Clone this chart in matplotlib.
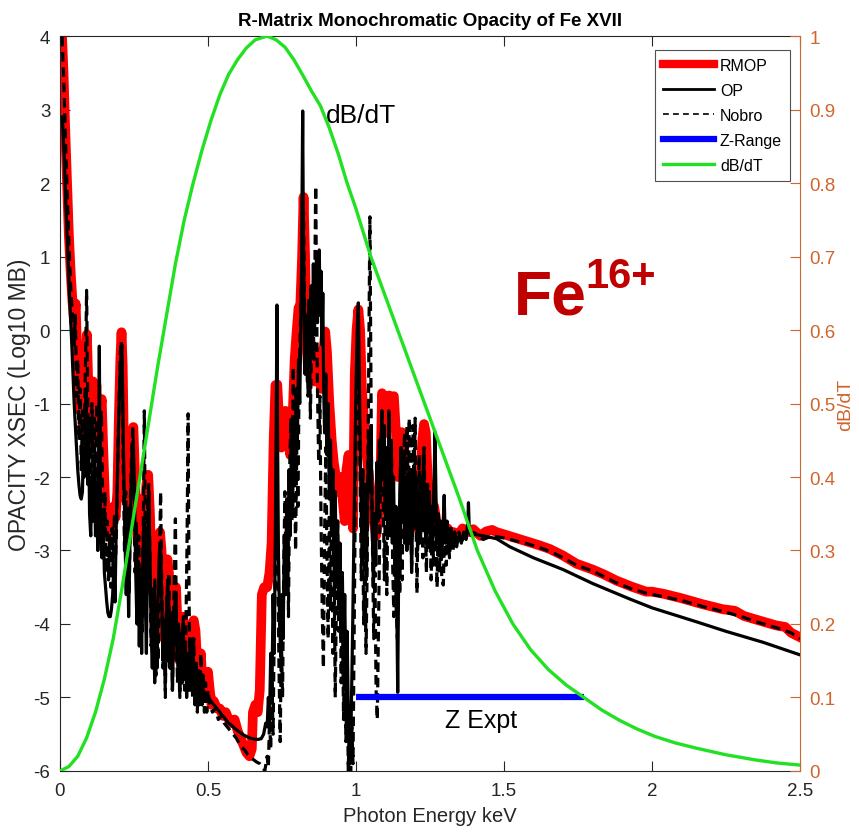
import matplotlib
matplotlib.use("Agg")
import matplotlib.pyplot as plt
from matplotlib.lines import Line2D

# ---------------- data ----------------
rmop_x = [0.005, 0.012, 0.018, 0.024, 0.030, 0.036, 0.042, 0.048, 0.053, 0.058, 0.063, 0.068, 0.073, 0.078, 0.083, 0.088, 0.091, 0.094, 0.098, 0.102,
          0.107, 0.112, 0.118, 0.123, 0.128, 0.134, 0.141, 0.146, 0.152, 0.158, 0.164, 0.170, 0.176, 0.182, 0.188, 0.194, 0.199, 0.204, 0.208, 0.212,
          0.216, 0.221, 0.226, 0.232, 0.238, 0.244, 0.248, 0.252, 0.258, 0.263, 0.268, 0.274, 0.280, 0.286, 0.292, 0.298, 0.304, 0.310, 0.316, 0.322,
          0.328, 0.334, 0.338, 0.343, 0.348, 0.353, 0.358, 0.363, 0.368, 0.374, 0.380, 0.386, 0.392, 0.398, 0.404, 0.410, 0.416, 0.422, 0.428, 0.434,
          0.440, 0.446, 0.452, 0.458, 0.464, 0.470, 0.476, 0.482, 0.488, 0.494, 0.500, 0.506, 0.512, 0.520, 0.530, 0.540, 0.550, 0.560, 0.570, 0.580,
          0.590, 0.600, 0.610, 0.620, 0.630, 0.640, 0.648, 0.652, 0.660, 0.668, 0.675, 0.682, 0.690, 0.700, 0.708, 0.715, 0.722, 0.728, 0.734, 0.740,
          0.748, 0.755, 0.762, 0.770, 0.778, 0.786, 0.793, 0.800, 0.806, 0.812, 0.818, 0.823, 0.828, 0.833, 0.838, 0.845, 0.852, 0.860, 0.868, 0.875,
          0.882, 0.890, 0.896, 0.902, 0.910, 0.918, 0.925, 0.932, 0.940, 0.948, 0.955, 0.962, 0.968, 0.975, 0.982, 0.990, 0.996, 1.002, 1.008, 1.014,
          1.020, 1.028, 1.036, 1.044, 1.052, 1.060, 1.068, 1.075, 1.082, 1.088, 1.094, 1.100, 1.106, 1.112, 1.120, 1.128, 1.135, 1.142, 1.150, 1.155,
          1.162, 1.170, 1.178, 1.186, 1.194, 1.200, 1.208, 1.216, 1.224, 1.230, 1.236, 1.242, 1.248, 1.256, 1.264, 1.272, 1.280, 1.290, 1.300, 1.310,
          1.320, 1.330, 1.345, 1.360, 1.380, 1.396, 1.420, 1.440, 1.460, 1.475, 1.500, 1.540, 1.580, 1.620, 1.655, 1.700, 1.745, 1.800, 1.840, 1.880,
          1.930, 1.980, 2.000, 2.040, 2.100, 2.170, 2.240, 2.280, 2.310, 2.360, 2.420, 2.450, 2.470, 2.500]
rmop_y = [4.2, 3.5, 2.7, 2.0, 1.3, 0.8, 0.4, 0.1, 0.36, -0.3, -0.8, -1.1, -0.9, -1.4, -1.0, -0.3, -0.06, -0.5, -1.2, -1.55,
          -0.8, -0.7, -1.3, -0.75, -1.5, -1.2, -0.94, -1.6, -2.3, -2.7, -2.5, -2.75, -2.6, -2.4, -2.55, -2.2, -1.2, -0.4, -0.03, -0.5,
          -1.6, -2.3, -2.0, -2.6, -1.9, -1.4, -1.32, -1.8, -2.6, -2.9, -2.3, -3.0, -3.4, -2.6, -2.1, -1.97, -2.5, -3.4, -3.6, -3.2,
          -3.9, -3.0, -2.75, -3.0, -3.6, -4.2, -3.4, -3.12, -3.3, -4.0, -4.4, -3.8, -3.5, -4.1, -4.5, -4.0, -3.9, -4.3, -4.6, -4.2,
          -4.5, -4.0, -3.95, -4.1, -4.6, -4.8, -4.4, -4.9, -5.0, -4.8, -4.65, -4.9, -5.1, -5.05, -5.15, -5.15, -5.25, -5.2, -5.3, -5.35,
          -5.3, -5.45, -5.55, -5.65, -5.75, -5.8, -5.7, -5.2, -5.1, -5.2, -4.9, -3.6, -3.5, -3.5, -3.3, -2.9, -1.5, -0.75, -0.74, -1.2,
          -1.6, -1.3, -1.1, -1.4, -1.7, -1.2, -0.4, 0.0, 0.3, 0.34, 1.0, 1.81, 1.0, -0.2, -0.5, -0.2, -0.4, -0.7, -0.3, -0.5,
          -0.8, -0.3, -0.02, -0.3, -1.0, -1.5, -1.8, -2.0, -2.2, -2.0, -2.3, -2.6, -1.9, -1.7, -2.2, -2.7, -0.6, 0.0, 0.28, 0.0,
          -0.8, -1.3, -1.7, -2.0, -2.3, -2.6, -2.8, -2.6, -2.2, -0.86, -1.0, -1.4, -1.1, -0.89, -0.95, -0.9, -1.4, -2.0, -1.6, -1.39,
          -1.7, -2.2, -2.5, -2.3, -2.0, -2.5, -2.7, -2.2, -1.5, -1.28, -1.4, -2.0, -2.3, -2.6, -2.4, -2.6, -2.8, -2.7, -2.85, -2.7,
          -2.8, -2.75, -2.8, -2.7, -2.75, -2.71, -2.8, -2.74, -2.72, -2.75, -2.78, -2.83, -2.88, -2.93, -2.98, -3.07, -3.18, -3.26, -3.33, -3.41,
          -3.49, -3.56, -3.56, -3.59, -3.65, -3.73, -3.80, -3.82, -3.89, -3.95, -4.02, -4.04, -4.12, -4.18]

op_x = [0.008, 0.014, 0.020, 0.026, 0.032, 0.036, 0.040, 0.044, 0.048, 0.052, 0.056, 0.060, 0.064, 0.068, 0.072, 0.076, 0.079, 0.082, 0.085, 0.088,
        0.091, 0.094, 0.097, 0.100, 0.104, 0.108, 0.112, 0.116, 0.120, 0.124, 0.128, 0.131, 0.133, 0.135, 0.138, 0.142, 0.146, 0.150, 0.154, 0.158,
        0.162, 0.166, 0.170, 0.174, 0.178, 0.182, 0.186, 0.190, 0.194, 0.198, 0.202, 0.206, 0.209, 0.212, 0.216, 0.220, 0.224, 0.228, 0.232, 0.236,
        0.240, 0.244, 0.248, 0.252, 0.256, 0.260, 0.264, 0.268, 0.272, 0.276, 0.280, 0.284, 0.288, 0.292, 0.296, 0.300, 0.304, 0.308, 0.312, 0.316,
        0.320, 0.324, 0.328, 0.332, 0.336, 0.340, 0.344, 0.348, 0.352, 0.356, 0.360, 0.364, 0.368, 0.372, 0.376, 0.380, 0.384, 0.388, 0.392, 0.396,
        0.400, 0.404, 0.408, 0.412, 0.416, 0.420, 0.424, 0.428, 0.432, 0.436, 0.440, 0.444, 0.448, 0.452, 0.456, 0.460, 0.464, 0.468, 0.472, 0.476,
        0.480, 0.485, 0.490, 0.495, 0.500, 0.510, 0.520, 0.530, 0.540, 0.550, 0.560, 0.570, 0.580, 0.590, 0.600, 0.610, 0.620, 0.630, 0.640, 0.650,
        0.660, 0.670, 0.680, 0.688, 0.695, 0.700, 0.704, 0.708, 0.712, 0.716, 0.720, 0.724, 0.728, 0.731, 0.733, 0.735, 0.738, 0.742, 0.746, 0.750,
        0.754, 0.758, 0.762, 0.766, 0.770, 0.774, 0.778, 0.782, 0.786, 0.790, 0.794, 0.798, 0.802, 0.806, 0.810, 0.813, 0.816, 0.818, 0.820, 0.822,
        0.825, 0.828, 0.832, 0.836, 0.840, 0.844, 0.848, 0.852, 0.856, 0.860, 0.864, 0.867, 0.870, 0.873, 0.876, 0.879, 0.882, 0.885, 0.888, 0.891,
        0.894, 0.898, 0.902, 0.906, 0.910, 0.914, 0.918, 0.922, 0.926, 0.930, 0.934, 0.938, 0.942, 0.946, 0.950, 0.954, 0.958, 0.962, 0.966, 0.970,
        0.974, 0.978, 0.981, 0.985, 0.989, 0.993, 0.997, 1.001, 1.005, 1.008, 1.011, 1.015, 1.019, 1.023, 1.027, 1.031, 1.035, 1.039, 1.043, 1.047,
        1.051, 1.055, 1.059, 1.063, 1.067, 1.071, 1.075, 1.079, 1.083, 1.087, 1.091, 1.095, 1.099, 1.103, 1.107, 1.111, 1.115, 1.119, 1.123, 1.127,
        1.131, 1.135, 1.138, 1.141, 1.144, 1.148, 1.152, 1.156, 1.160, 1.164, 1.168, 1.172, 1.176, 1.180, 1.184, 1.188, 1.192, 1.196, 1.200, 1.204,
        1.208, 1.212, 1.216, 1.220, 1.224, 1.228, 1.232, 1.236, 1.240, 1.244, 1.248, 1.252, 1.256, 1.260, 1.264, 1.267, 1.270, 1.274, 1.278, 1.282,
        1.286, 1.290, 1.294, 1.298, 1.302, 1.308, 1.314, 1.320, 1.326, 1.332, 1.340, 1.348, 1.356, 1.364, 1.372, 1.378, 1.380, 1.383, 1.390, 1.400,
        1.430, 1.475, 1.520, 1.600, 1.700, 1.800, 1.925, 2.000, 2.150, 2.250, 2.376, 2.500]
op_y = [2.9, 2.4, 1.7, 1.1, 0.5, 0.15, -0.2, -0.6, -1.0, -1.3, -1.6, -1.9, -2.1, -2.25, -2.3, -2.2, -1.6, -2.0, -1.2, -0.8,
        -1.5, -2.1, -1.4, -2.5, -2.8, -2.0, -2.6, -1.7, -2.8, -2.2, -3.0, -1.5, -0.22, -1.6, -2.7, -3.1, -2.5, -3.3, -3.5, -3.7,
        -3.85, -3.9, -3.9, -3.8, -3.6, -3.2, -3.7, -2.7, -2.0, -1.3, -0.7, -0.35, -0.2, -0.9, -2.0, -2.9, -3.6, -2.7, -3.9, -3.0,
        -2.2, -1.6, -1.5, -2.3, -3.3, -4.0, -3.2, -4.3, -3.4, -4.4, -3.1, -2.6, -3.6, -4.4, -3.0, -2.2, -3.1, -4.1, -4.6, -3.8,
        -4.8, -4.0, -4.6, -3.5, -3.0, -2.9, -3.7, -4.5, -4.0, -4.8, -3.8, -3.4, -3.8, -4.6, -3.9, -4.9, -4.1, -3.7, -3.6, -4.5,
        -4.0, -4.9, -4.2, -4.8, -4.0, -4.7, -4.3, -5.0, -4.4, -4.9, -4.3, -4.8, -4.2, -4.7, -5.1, -4.6, -5.0, -4.7, -5.1, -4.8,
        -5.0, -4.9, -5.0, -4.95, -5.0, -5.05, -5.1, -5.15, -5.2, -5.25, -5.3, -5.35, -5.38, -5.42, -5.45, -5.48, -5.51, -5.53, -5.55, -5.56,
        -5.57, -5.57, -5.56, -5.5, -5.35, -5.4, -5.0, -5.3, -4.4, -5.0, -3.6, -4.4, -2.6, -1.0, 0.34, -1.4, -3.0, -4.0, -4.45, -3.6,
        -4.2, -2.8, -3.6, -2.3, -3.2, -1.9, -2.8, -1.6, -2.4, -1.2, -2.0, -0.8, -1.5, -0.4, -1.0, -0.2, 0.8, 1.8, 2.98, 1.5,
        0.3, -0.6, 0.2, -0.7, 0.4, -0.5, 0.6, -0.3, 0.9, 0.0, 0.7, 1.05, 0.1, 0.9, 1.09, 0.2, 0.8, -0.2, 0.5, -0.8,
        -1.4, -0.6, -1.7, -1.0, -2.3, -1.5, -2.8, -1.9, -3.1, -2.2, -3.5, -2.6, -3.8, -2.9, -4.2, -3.3, -4.5, -3.6, -4.8, -4.1,
        -5.2, -5.6, -5.9, -5.0, -4.0, -2.8, -1.6, -0.6, 0.1, 0.37, -0.6, -1.8, -2.8, -1.9, -3.1, -2.1, -3.4, -2.4, -1.4, -2.2,
        -1.3, -2.7, -3.5, -2.5, -3.2, -1.8, -2.6, -1.5, -2.2, -1.1, -2.0, -1.3, -2.5, -1.6, -2.8, -1.1, -2.3, -1.5, -2.9, -2.0,
        -3.2, -2.4, -3.8, -4.93, -3.4, -2.2, -1.6, -2.6, -1.7, -2.9, -2.0, -3.0, -2.2, -2.9, -2.0, -3.3, -2.4, -1.9, -2.7, -2.0,
        -3.0, -2.3, -2.9, -2.1, -2.6, -1.7, -2.4, -2.9, -2.1, -2.7, -2.2, -2.9, -2.4, -2.8, -2.0, -1.39, -2.2, -2.9, -2.5, -3.0,
        -2.6, -3.1, -2.7, -2.25, -2.9, -2.6, -3.0, -2.7, -2.95, -2.75, -2.9, -2.8, -2.9, -2.75, -2.85, -2.6, -2.35, -2.75, -2.8, -2.78,
        -2.8, -2.84, -2.95, -3.1, -3.26, -3.45, -3.66, -3.78, -3.97, -4.1, -4.25, -4.42]

nobro_x = [0.005, 0.012, 0.018, 0.024, 0.030, 0.036, 0.042, 0.048, 0.052, 0.056, 0.060, 0.064, 0.068, 0.072, 0.076, 0.080, 0.084, 0.087, 0.090, 0.093,
           0.096, 0.100, 0.104, 0.108, 0.112, 0.116, 0.120, 0.124, 0.128, 0.132, 0.136, 0.140, 0.144, 0.148, 0.152, 0.156, 0.160, 0.164, 0.168, 0.172,
           0.176, 0.180, 0.184, 0.188, 0.192, 0.196, 0.200, 0.204, 0.207, 0.210, 0.214, 0.218, 0.222, 0.226, 0.230, 0.234, 0.238, 0.242, 0.246, 0.250,
           0.254, 0.258, 0.262, 0.266, 0.270, 0.274, 0.278, 0.282, 0.285, 0.288, 0.292, 0.296, 0.300, 0.304, 0.308, 0.312, 0.316, 0.320, 0.324, 0.328,
           0.332, 0.336, 0.340, 0.344, 0.348, 0.352, 0.356, 0.360, 0.364, 0.368, 0.372, 0.376, 0.380, 0.384, 0.388, 0.390, 0.393, 0.397, 0.401, 0.405,
           0.409, 0.413, 0.417, 0.421, 0.425, 0.429, 0.433, 0.436, 0.440, 0.444, 0.448, 0.452, 0.456, 0.460, 0.464, 0.468, 0.472, 0.476, 0.480, 0.484,
           0.488, 0.492, 0.496, 0.500, 0.506, 0.515, 0.525, 0.535, 0.545, 0.555, 0.565, 0.575, 0.585, 0.595, 0.605, 0.615, 0.625, 0.635, 0.645, 0.655,
           0.665, 0.675, 0.685, 0.692, 0.700, 0.704, 0.708, 0.712, 0.716, 0.720, 0.724, 0.728, 0.732, 0.736, 0.740, 0.744, 0.748, 0.752, 0.756, 0.760,
           0.764, 0.768, 0.772, 0.776, 0.780, 0.784, 0.788, 0.792, 0.796, 0.800, 0.804, 0.808, 0.812, 0.816, 0.820, 0.823, 0.826, 0.830, 0.834, 0.838,
           0.842, 0.846, 0.850, 0.854, 0.858, 0.861, 0.864, 0.867, 0.870, 0.874, 0.878, 0.882, 0.886, 0.890, 0.894, 0.898, 0.902, 0.906, 0.910, 0.914,
           0.918, 0.922, 0.926, 0.930, 0.934, 0.938, 0.942, 0.946, 0.950, 0.954, 0.958, 0.962, 0.966, 0.970, 0.974, 0.978, 0.982, 0.986, 0.990, 0.994,
           0.998, 1.002, 1.006, 1.010, 1.014, 1.018, 1.022, 1.026, 1.030, 1.034, 1.038, 1.042, 1.045, 1.047, 1.049, 1.052, 1.056, 1.060, 1.064, 1.068,
           1.072, 1.076, 1.080, 1.084, 1.088, 1.092, 1.096, 1.100, 1.104, 1.108, 1.112, 1.116, 1.120, 1.124, 1.128, 1.132, 1.136, 1.140, 1.144, 1.148,
           1.152, 1.156, 1.160, 1.164, 1.168, 1.172, 1.176, 1.180, 1.184, 1.188, 1.192, 1.196, 1.200, 1.203, 1.206, 1.210, 1.214, 1.218, 1.222, 1.226,
           1.230, 1.234, 1.238, 1.242, 1.246, 1.250, 1.254, 1.258, 1.262, 1.266, 1.270, 1.274, 1.278, 1.282, 1.286, 1.290, 1.295, 1.300, 1.305, 1.310,
           1.316, 1.322, 1.328, 1.334, 1.340, 1.348, 1.356, 1.365, 1.375, 1.385, 1.400, 1.430, 1.460, 1.500, 1.540, 1.580, 1.620, 1.660, 1.700, 1.745,
           1.800, 1.840, 1.880, 1.930, 1.980, 2.040, 2.100, 2.170, 2.240, 2.310, 2.360, 2.420, 2.470, 2.500]
nobro_y = [4.2, 3.5, 2.7, 1.9, 1.2, 0.6, 0.2, -0.2, 0.2, -0.9, -0.4, -1.5, -0.8, -1.9, -1.1, -1.8, -0.9, -0.3, 0.54, -0.6,
           -1.8, -1.2, -2.3, -1.0, -2.0, -1.2, -2.2, -1.0, -2.1, -2.6, -1.3, -1.1, -2.2, -2.8, -2.2, -3.3, -2.6, -3.4, -2.8, -3.5,
           -2.7, -3.3, -2.5, -3.1, -2.6, -1.6, -0.9, -0.3, -0.15, -0.5, -1.9, -3.0, -2.2, -3.4, -2.4, -3.6, -2.3, -1.7, -1.3, -2.2,
           -3.3, -2.6, -3.8, -2.8, -4.0, -3.2, -4.1, -2.5, -1.1, -2.6, -3.8, -2.4, -2.1, -3.2, -4.3, -3.5, -4.6, -3.4, -4.7, -3.7,
           -4.5, -3.2, -2.2, -3.6, -4.6, -3.9, -5.0, -3.6, -4.5, -3.3, -4.6, -3.8, -4.9, -3.9, -3.0, -2.57, -3.9, -4.8, -4.0, -5.0,
           -4.1, -4.8, -3.9, -4.9, -4.2, -3.0, -1.14, -3.6, -4.9, -4.3, -5.0, -4.2, -5.1, -4.5, -5.2, -4.6, -5.0, -4.4, -5.1, -4.7,
           -5.2, -4.8, -5.2, -4.9, -5.1, -5.2, -5.15, -5.3, -5.25, -5.35, -5.4, -5.45, -5.5, -5.55, -5.62, -5.68, -5.72, -5.78, -5.82, -5.85,
           -5.88, -5.9, -5.95, -6.0, -5.8, -5.95, -5.3, -5.7, -4.8, -5.5, -4.0, -3.0, -1.6, -3.2, -4.6, -5.6, -4.2, -5.0, -3.2, -2.2,
           -3.6, -2.4, -3.9, -1.9, -1.2, -2.6, -0.5, -1.8, -3.0, -1.6, -2.4, -0.6, 0.0, 0.6, 1.3, 1.6, 0.4, -0.6, 0.2, -0.9,
           0.3, -1.2, -0.2, 0.6, -0.4, 0.8, 1.96, 0.4, -0.8, -1.8, -0.9, -2.6, -3.8, -4.6, -2.8, -1.6, -3.0, -4.2, -2.5, -3.8,
           -2.2, -4.4, -3.1, -5.0, -3.6, -2.6, -4.1, -3.0, -4.8, -3.6, -5.3, -4.2, -5.6, -4.6, -6.0, -5.2, -6.0, -5.4, -5.9, -4.0,
           -2.2, -1.0, 0.2, -0.8, -2.0, -3.4, -2.4, -4.0, -3.0, -4.4, -3.2, -1.0, 0.5, 1.54, 0.3, -1.6, -3.0, -4.2, -3.3, -4.9,
           -5.3, -4.1, -2.8, -1.6, -1.1, -2.2, -3.4, -2.0, -3.6, -2.4, -1.2, -2.8, -1.6, -3.2, -3.9, -2.6, -3.8, -4.2, -2.9, -3.6,
           -2.2, -3.4, -2.0, -1.4, -2.6, -1.3, -2.9, -1.2, -2.5, -3.2, -1.3, -2.1, -1.2, -2.6, -3.58, -2.4, -1.7, -2.9, -2.0, -3.1,
           -1.6, -2.6, -3.3, -2.1, -3.0, -2.4, -3.4, -2.5, -3.2, -1.9, -2.8, -3.5, -2.6, -3.3, -2.7, -3.4, -3.47, -2.6, -3.2, -2.7,
           -3.1, -2.7, -3.0, -2.75, -2.95, -2.75, -2.9, -2.8, -2.85, -2.75, -2.76, -2.85, -2.8, -2.83, -2.87, -2.91, -2.96, -3.02, -3.1, -3.2,
           -3.28, -3.36, -3.44, -3.52, -3.58, -3.63, -3.68, -3.76, -3.83, -3.91, -3.98, -4.05, -4.12, -4.2]

zrange_x = [1.0, 1.77]
zrange_y = [-5.0, -5.0]

dbdt_x = [0.0, 0.03, 0.06, 0.09, 0.12, 0.15, 0.18, 0.21, 0.24, 0.27, 0.30, 0.33, 0.36, 0.39, 0.42, 0.45, 0.48, 0.51, 0.54, 0.57,
          0.60, 0.63, 0.66, 0.70, 0.73, 0.76, 0.79, 0.82, 0.85, 0.88, 0.91, 0.94, 0.97, 1.00, 1.05, 1.10, 1.15, 1.20, 1.25, 1.30,
          1.35, 1.41, 1.47, 1.53, 1.59, 1.65, 1.71, 1.77, 1.83, 1.89, 1.95, 2.01, 2.08, 2.15, 2.25, 2.35, 2.42, 2.50]
dbdt_y = [0.0, 0.006, 0.02, 0.045, 0.08, 0.125, 0.18, 0.25, 0.325, 0.40, 0.475, 0.55, 0.62, 0.69, 0.75, 0.80, 0.845, 0.885, 0.92, 0.948,
          0.968, 0.984, 0.995, 1.0, 0.995, 0.985, 0.968, 0.947, 0.925, 0.905, 0.875, 0.84, 0.80, 0.765, 0.70, 0.645, 0.59, 0.535, 0.48, 0.425,
          0.37, 0.30, 0.245, 0.20, 0.165, 0.138, 0.117, 0.10, 0.083, 0.069, 0.057, 0.047, 0.038, 0.031, 0.022, 0.015, 0.011, 0.008]

xticks = [0, 0.5, 1, 1.5, 2, 2.5]
xtick_labels = ["0", "0.5", "1", "1.5", "2", "2.5"]
yticks_left = [-6, -5, -4, -3, -2, -1, 0, 1, 2, 3, 4]
yticks_right = [0, 0.1, 0.2, 0.3, 0.4, 0.5, 0.6, 0.7, 0.8, 0.9, 1.0]
yticks_right_labels = ["0", "0.1", "0.2", "0.3", "0.4", "0.5", "0.6", "0.7", "0.8", "0.9", "1"]

# ---------------- style ----------------
plt.rcParams["font.family"] = ["Liberation Sans", "DejaVu Sans"]
plt.rcParams["axes.unicode_minus"] = False
ORANGE = "#D0652E"
DARK = "#262626"
RED = "#FF0000"
GREEN = "#22E022"

fig = plt.figure(figsize=(8.59, 8.37), dpi=100)
ax = fig.add_axes([0.0698, 0.0777, 0.8615, 0.878])

ax.plot(rmop_x, rmop_y, color=RED, lw=7.0, solid_joinstyle="round", zorder=2)
ax.plot(op_x, op_y, color="black", lw=2.3, zorder=3)
ax.plot(nobro_x, nobro_y, color="black", lw=2.3, ls=(0, (3.0, 1.8)), zorder=4)
ax.plot(zrange_x, zrange_y, color="#0000FF", lw=4.5, solid_capstyle="butt", zorder=5)

ax.set_xlim(0, 2.5)
ax.set_ylim(-6, 4)
ax.set_xticks(xticks)
ax.set_xticklabels(xtick_labels)
ax.set_yticks(yticks_left)
ax.tick_params(axis="both", direction="in", length=7, width=0.8, colors=DARK, labelsize=13.5)
ax.tick_params(axis="x", top=True, pad=8)
ax.tick_params(axis="y", pad=7)
for s in ["left", "bottom", "top"]:
    ax.spines[s].set_color(DARK)
    ax.spines[s].set_linewidth(0.8)
ax.spines["right"].set_visible(False)

ax.set_xlabel("Photon Energy keV", fontsize=14.5, color=DARK, labelpad=5)
ax.set_ylabel("OPACITY XSEC (Log10 MB)", fontsize=16.5, color=DARK, labelpad=2)
ax.set_title("R-Matrix Monochromatic Opacity of Fe XVII", fontsize=13.5, fontweight="bold",
             color="black", pad=8)

ax.text(0.90, 2.83, "dB/dT", fontsize=19, color="black", ha="left", va="baseline")
ax.text(1.30, -5.40, "Z Expt", fontsize=18, color="black", ha="left", va="baseline")
ax.text(1.535, 0.22, "Fe", fontsize=45, fontweight="bold", color="#C00000",
        ha="left", va="baseline")
ax.text(1.775, 0.58, "16+", fontsize=30, fontweight="bold", color="#C00000",
        ha="left", va="baseline")

ax2 = ax.twinx()
ax2.plot(dbdt_x, dbdt_y, color=GREEN, lw=2.4, zorder=6)
ax2.set_ylim(0, 1)
ax2.set_xlim(0, 2.5)
ax2.set_yticks(yticks_right)
ax2.set_yticklabels(yticks_right_labels)
ax2.tick_params(axis="y", direction="in", length=7, width=0.8, colors=ORANGE, labelsize=13.5, pad=7)
for s in ["left", "bottom", "top"]:
    ax2.spines[s].set_visible(False)
ax2.spines["right"].set_color(ORANGE)
ax2.spines["right"].set_linewidth(0.8)
ax2.set_ylabel("dB/dT", fontsize=14, color=ORANGE, labelpad=1)

handles = [
    Line2D([], [], color=RED, lw=6.0),
    Line2D([], [], color="black", lw=2.0),
    Line2D([], [], color="black", lw=1.2, ls=(0, (3.5, 2.5))),
    Line2D([], [], color="#0000FF", lw=4.5),
    Line2D([], [], color=GREEN, lw=2.4),
]
labels = ["RMOP", "OP", "Nobro", "Z-Range", "dB/dT"]
leg = ax2.legend(handles, labels, loc="upper right", bbox_to_anchor=(0.9865, 0.981), fontsize=11.5,
                 frameon=True, fancybox=False, edgecolor=DARK, handlelength=3.2,
                 handletextpad=0.35, borderpad=0.5, labelspacing=0.62, borderaxespad=0.0)
leg.get_frame().set_linewidth(0.8)

fig.savefig("out.png", dpi=100)
